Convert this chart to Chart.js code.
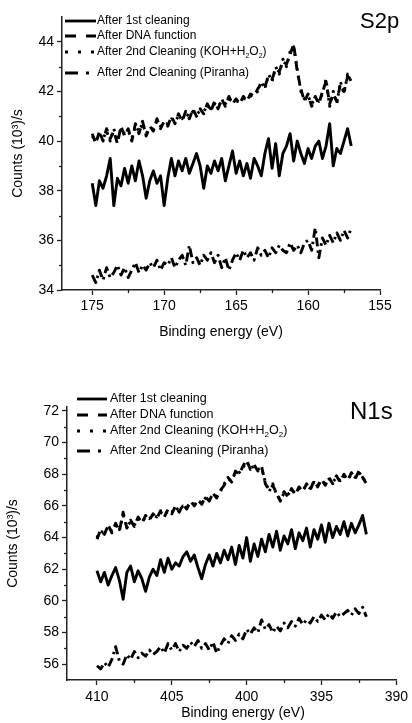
<!DOCTYPE html>
<html><head><meta charset="utf-8">
<script src="https://cdn.jsdelivr.net/npm/chart.js@4.4.1/dist/chart.umd.min.js"></script>
<style>
html,body{margin:0;padding:0;background:#fff;width:412px;height:723px;overflow:hidden}
.box{position:absolute;left:0;width:412px}
#b1{top:0;height:350px}
#b2{top:360px;height:363px}
</style></head><body>
<div class="box" id="b1"><canvas id="c1"></canvas></div>
<div class="box" id="b2"><canvas id="c2"></canvas></div>
<script>
// ---------- DATA ----------
const seriesLabels = ['After 1st cleaning','After DNA function','After 2nd Cleaning (KOH+H₂O₂)','After 2nd Cleaning (Piranha)'];
const xAxisTitle = 'Binding energy (eV)';
const yAxisTitle = 'Counts (10³)/s';

// S2p panel
const s2pEnergy = [175,174.75,174.5,174.25,174,173.75,173.5,173.25,173,172.75,172.5,172.25,172,171.75,171.5,171.25,171,170.75,170.5,170.25,170,169.75,169.5,169.25,169,168.75,168.5,168.25,168,167.75,167.5,167.25,167,166.75,166.5,166.25,166,165.75,165.5,165.25,165,164.75,164.5,164.25,164,163.75,163.5,163.25,163,162.75,162.5,162.25,162,161.75,161.5,161.25,161,160.75,160.5,160.25,160,159.75,159.5,159.25,159,158.75,158.5,158.25,158,157.75,157.5,157.25,157];
const s2pFirst = [38.3,37.4,38.4,38.1,38.6,39.3,37.4,38.5,38.2,38.9,38.3,39.0,38.4,39.2,38.6,37.7,38.4,38.8,38.3,38.6,37.4,38.5,39.3,38.6,39.2,38.8,39.3,38.7,39.1,39.5,39.0,38.1,39.0,38.7,39.2,38.8,39.3,38.4,39.0,39.6,38.7,39.2,38.6,39.1,38.5,39.3,39.0,38.6,39.5,40.1,38.9,39.9,38.6,39.5,39.8,40.3,39.2,40.0,39.5,39.1,39.7,39.3,39.8,40.0,39.3,39.8,40.7,39.0,39.7,39.5,40.0,40.5,39.8];
const s2pDNA = [40.3,39.9,40.4,40.0,40.5,40.1,40.4,39.9,40.6,40.2,40.5,40.0,40.7,40.3,40.8,40.2,40.6,40.4,40.9,40.5,40.8,40.6,41.0,40.7,41.1,40.8,41.2,40.9,41.3,41.0,41.3,41.1,41.5,41.2,41.6,41.3,41.7,41.4,41.8,41.5,41.7,41.5,41.8,41.6,41.9,41.8,42.1,42.3,42.2,42.6,42.5,42.9,42.8,43.2,43.1,43.5,43.9,42.8,42.1,41.6,41.9,41.4,41.8,41.5,42.0,42.4,41.5,41.9,41.6,42.3,42.0,42.6,42.5];
const s2pKOH = [40.2,40.0,40.3,40.1,40.4,40.0,40.5,40.0,40.5,40.3,40.4,40.1,40.6,40.4,40.7,40.3,40.5,40.5,40.8,40.6,40.7,40.7,40.9,40.8,41.0,40.9,41.1,41.0,41.2,41.1,41.2,41.2,41.4,41.3,41.5,41.4,41.6,41.5,41.7,41.6,41.6,41.6,41.7,41.7,41.8,41.9,42.0,42.4,42.1,42.7,42.4,43.0,42.7,43.3,43.0,43.6,43.8,42.9,42.0,41.7,41.8,41.5,41.7,41.6,41.9,42.5,41.4,42.0,41.5,42.4,41.9,42.7,42.4];
const s2pPiranha = [34.6,34.3,34.8,34.4,34.9,34.5,34.7,35.0,34.6,34.9,34.5,34.8,35.1,34.7,35.0,34.8,35.1,34.9,35.2,34.8,35.1,35.0,35.3,34.9,35.2,35.4,35.0,35.8,35.1,35.3,35.0,35.4,35.2,35.5,35.1,35.4,34.9,35.3,34.8,35.2,35.5,35.2,35.6,35.3,35.5,35.2,35.7,35.4,35.6,35.3,35.7,35.5,35.8,35.6,35.5,35.9,35.6,35.8,35.5,35.9,36.0,35.6,36.5,35.3,36.1,35.8,36.2,35.9,36.3,36.0,36.4,36.1,36.5];
const s2pXTicks = [175,170,165,160,155];
const s2pXMinor = [172.5,167.5,162.5,157.5];
const s2pYTicks = [34,36,38,40,42,44];
const s2pYMinor = [35,37,39,41,43];

// N1s panel
const n1sEnergy = [410,409.75,409.5,409.25,409,408.75,408.5,408.25,408,407.75,407.5,407.25,407,406.75,406.5,406.25,406,405.75,405.5,405.25,405,404.75,404.5,404.25,404,403.75,403.5,403.25,403,402.75,402.5,402.25,402,401.75,401.5,401.25,401,400.75,400.5,400.25,400,399.75,399.5,399.25,399,398.75,398.5,398.25,398,397.75,397.5,397.25,397,396.75,396.5,396.25,396,395.75,395.5,395.25,395,394.75,394.5,394.25,394,393.75,393.5,393.25,393,392.75,392.5,392.25,392];
const n1sFirst = [61.9,61.2,61.8,61.0,61.6,62.1,61.3,60.1,61.8,62.2,61.2,61.9,61.4,60.6,61.5,62.0,61.6,62.6,61.8,62.7,62.0,62.4,62.2,62.8,63.1,62.5,62.9,62.1,61.4,62.3,62.9,62.2,63.0,62.4,63.2,62.6,63.4,62.3,63.5,62.7,64.0,62.5,63.6,62.8,63.9,63.1,64.2,63.4,64.4,63.2,64.1,63.6,64.5,63.3,64.3,63.8,64.6,63.4,64.5,63.9,64.8,63.7,64.9,64.0,64.7,64.2,65.0,64.1,64.9,64.3,64.8,65.4,64.2];
const n1sDNA = [63.9,64.5,64.2,64.8,64.3,64.9,64.4,65.6,64.6,65.1,64.7,65.3,64.9,65.4,65.1,65.5,65.2,65.7,65.3,65.8,65.5,66.0,65.6,66.1,65.8,66.3,66.0,66.4,66.1,66.6,66.3,66.8,66.5,67.0,67.3,67.8,67.5,68.2,68.0,68.5,68.9,68.3,68.6,68.2,68.5,67.4,67.0,67.3,66.8,66.3,66.9,66.6,67.1,66.7,67.2,66.9,67.4,67.0,67.6,67.2,67.7,67.3,67.8,67.4,67.9,67.5,68.0,67.6,68.1,67.7,68.2,67.8,67.4];
const n1sKOH = [64.0,64.4,64.3,64.7,64.4,64.8,64.5,65.4,64.7,65.0,64.8,65.2,65.0,65.3,65.2,65.4,65.3,65.6,65.4,65.7,65.6,65.9,65.7,66.0,65.9,66.2,66.1,66.3,66.2,66.5,66.4,66.7,66.6,66.9,67.4,67.7,67.6,68.1,68.1,68.4,68.8,68.4,68.5,68.3,68.4,67.5,66.9,67.4,66.7,66.4,66.8,66.7,67.0,66.8,67.1,67.0,67.3,67.1,67.5,67.3,67.6,67.4,67.7,67.5,67.8,67.6,67.9,67.7,68.0,67.8,68.1,67.9,67.3];
const n1sPiranha = [55.9,55.7,56.1,55.8,56.3,57.1,56.2,56.0,56.6,56.3,56.8,56.4,56.7,56.5,56.9,56.6,56.8,57.1,56.7,57.3,56.9,57.3,56.8,57.2,57.0,57.4,57.1,57.5,57.0,57.3,56.9,57.4,56.7,57.2,57.6,57.3,57.8,57.5,57.9,57.6,58.2,57.9,58.3,58.0,58.8,58.2,58.5,58.0,58.4,58.1,58.6,58.3,58.7,58.4,58.9,58.5,58.8,58.6,59.0,58.7,59.1,58.8,59.2,58.9,59.3,59.0,59.2,59.4,59.1,59.5,59.2,59.6,59.0];
const n1sXTicks = [410,405,400,395,390];
const n1sXMinor = [407.5,402.5,397.5,392.5];
const n1sYTicks = [56,58,60,62,64,66,68,70,72];
const n1sYMinor = [57,59,61,63,65,67,69,71];

// ---------- STYLE ----------
const FF = '"Liberation Sans", Arial, Helvetica, sans-serif';
const dashes = [[], [8,6], [2.5,5], [9,4,2.5,4]];
const legendDashes = [[], [11,10], [3,10], [13,8,3,8]];

function pairs(xs, ys){ return xs.map((x,i)=>({x:x, y:ys[i]})); }

function makeDatasets(energy, arrs){
  return arrs.map((a,i)=>({
    label: seriesLabels[i],
    data: pairs(energy, a),
    borderColor:'#000',
    borderWidth:2.9,
    borderDash: dashes[i],
    pointRadius:0,
    tension:0,
    fill:false,
    borderCapStyle:'butt',
    borderJoinStyle:'round'
  }));
}

function drawRich(ctx, text, x, y, size){
  let cx = x;
  let buf = '';
  const flush = ()=>{ if(buf){ ctx.font = size+'px '+FF; ctx.fillText(buf, cx, y); cx += ctx.measureText(buf).width; buf=''; } };
  for (const ch of text){
    if (ch === '₂'){
      flush();
      const s = Math.round(size*0.62);
      ctx.font = s+'px '+FF;
      ctx.fillText('2', cx, y + size*0.32);
      cx += ctx.measureText('2').width;
    } else buf += ch;
  }
  flush();
}

const extras = {
  id:'extras',
  afterDraw(chart, args, o){
    const ctx = chart.ctx, xs = chart.scales.x, ys = chart.scales.y;
    ctx.save();
    ctx.strokeStyle = '#222'; ctx.lineWidth = 1.3; ctx.setLineDash([]);
    o.xMinor.forEach(v=>{ const p = Math.round(xs.getPixelForValue(v))+0.5; ctx.beginPath(); ctx.moveTo(p, xs.top); ctx.lineTo(p, xs.top+3); ctx.stroke(); });
    o.yMinor.forEach(v=>{ const p = Math.round(ys.getPixelForValue(v))+0.5; ctx.beginPath(); ctx.moveTo(ys.right, p); ctx.lineTo(ys.right-3, p); ctx.stroke(); });
    // legend
    ctx.fillStyle = '#000'; ctx.textBaseline = 'middle'; ctx.textAlign = 'left';
    chart.data.datasets.forEach((ds,i)=>{
      const y = o.legRows[i];
      ctx.strokeStyle = '#000'; ctx.lineWidth = 2.8; ctx.lineCap = 'butt';
      ctx.setLineDash(legendDashes[i]);
      ctx.beginPath(); ctx.moveTo(o.legX0, y); ctx.lineTo(o.legX1, y); ctx.stroke();
      ctx.setLineDash([]);
      drawRich(ctx, ds.label, o.legTextX, y, o.legFont);
    });
    // x axis title
    ctx.font = '14px ' + FF; ctx.textAlign = 'center'; ctx.textBaseline = 'middle';
    ctx.fillText(xAxisTitle, o.xTitleX, o.xTitleY);
    // panel label
    ctx.textAlign = 'left';
    ctx.font = o.panelFont + 'px ' + FF;
    ctx.textBaseline = 'alphabetic';
    ctx.fillText(o.panel, o.panelX, o.panelY);
    ctx.restore();
  }
};

function makeChart(id, cfg){
  return new Chart(document.getElementById(id), {
    type:'line',
    data:{ datasets: makeDatasets(cfg.energy, cfg.series) },
    plugins:[extras],
    options:{
      responsive:true, maintainAspectRatio:false, animation:false,
      layout:{ padding: cfg.padding },
      plugins:{ legend:{display:false}, tooltip:{enabled:false}, extras: cfg.extras },
      scales:{
        x:{
          type:'linear', reverse:true, min:cfg.xMin, max:cfg.xMax,
          afterBuildTicks: s => { s.ticks = cfg.xTicks.map(v=>({value:v})); },
          afterFit: s => { s.height = cfg.xHeight; },
          ticks:{ color:'#000', font:{family:FF, size:14}, padding:cfg.xTickPad, maxRotation:0, autoSkip:false },
          grid:{ drawOnChartArea:false, drawTicks:true, tickLength:5, tickColor:'#222', tickWidth:1.3 },
          border:{ display:true, color:'#222', width:1.5 },
          title:{ display:false }
        },
        y:{
          type:'linear', min:cfg.yMin, max:cfg.yMax,
          afterBuildTicks: s => { s.ticks = cfg.yTicks.map(v=>({value:v})); },
          afterFit: s => { s.width = cfg.yWidth; },
          ticks:{ color:'#000', font:{family:FF, size:14}, padding:3, autoSkip:false },
          grid:{ drawOnChartArea:false, drawTicks:true, tickLength:5, tickColor:'#222', tickWidth:1.3 },
          border:{ display:true, color:'#222', width:1.5 },
          title:{ display:true, text:yAxisTitle, color:'#000', font:{family:FF, size:14}, padding:{top:cfg.yTitlePad, bottom:0} }
        }
      }
    }
  });
}

makeChart('c1', {
  energy:s2pEnergy, series:[s2pFirst, s2pDNA, s2pKOH, s2pPiranha],
  xMin:155, xMax:177.1, yMin:34, yMax:45,
  xTicks:s2pXTicks, yTicks:s2pYTicks,
  padding:{left:0, right:32, top:17, bottom:0},
  xHeight:60, yWidth:62, xTickPad:3, yTitlePad:10,
  extras:{ xMinor:s2pXMinor, yMinor:s2pYMinor,
    legRows:[21,36,52,73], legX0:65, legX1:96, legTextX:97, legFont:12,
    xTitleX:221, xTitleY:332,
    panel:'S2p', panelFont:22, panelX:360, panelY:28 }
});

makeChart('c2', {
  energy:n1sEnergy, series:[n1sFirst, n1sDNA, n1sKOH, n1sPiranha],
  xMin:390, xMax:412, yMin:55, yMax:72.25,
  xTicks:n1sXTicks, yTicks:n1sYTicks,
  padding:{left:0, right:11, top:47, bottom:0},
  xHeight:43, yWidth:67, xTickPad:4, yTitlePad:5,
  extras:{ xMinor:n1sXMinor, yMinor:n1sYMinor,
    legRows:[39,55,71,91], legX0:77, legX1:107, legTextX:110, legFont:12.5,
    xTitleX:243, xTitleY:353,
    panel:'N1s', panelFont:24, panelX:350, panelY:59 }
});
</script>
</body></html>
